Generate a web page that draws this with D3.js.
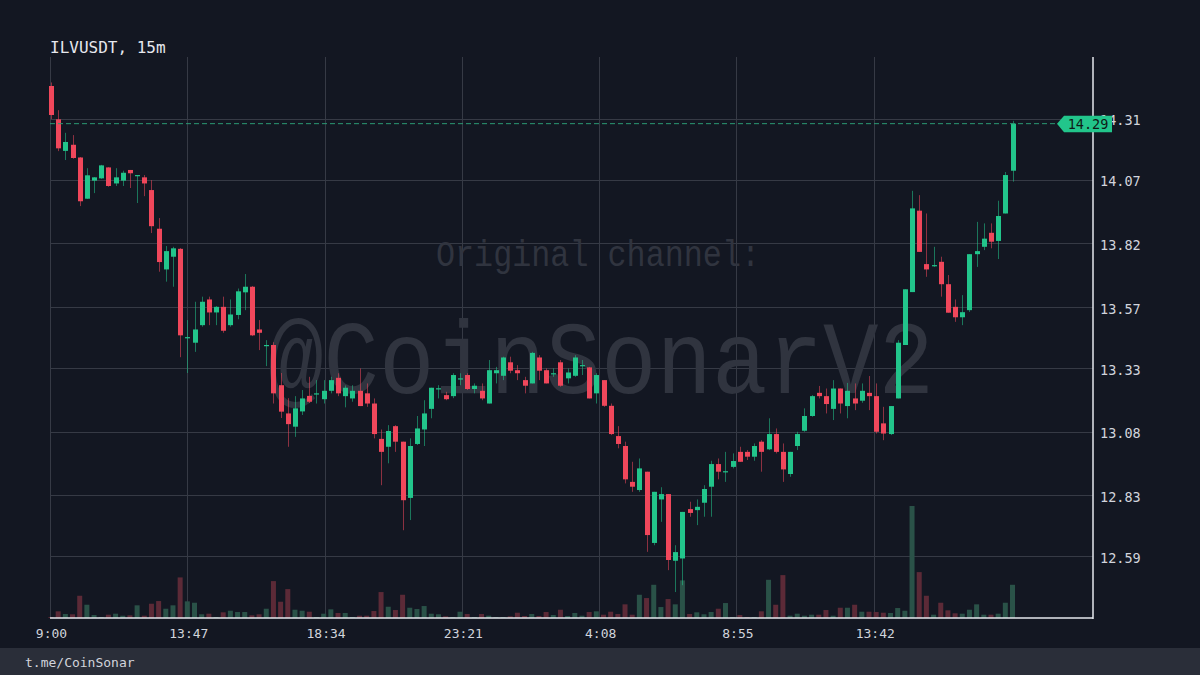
<!DOCTYPE html>
<html>
<head>
<meta charset="utf-8">
<script src="https://cdn.jsdelivr.net/npm/d3@7"></script>
<style>
html,body{margin:0;padding:0;background:#131722;}
svg{display:block;}
</style>
</head>
<body>
<svg id="chart" width="1200" height="675"></svg>
<script>
// ---------------- DATA ----------------
const symbolTitle = "ILVUSDT, 15m";
const footerText = "t.me/CoinSonar";
const watermarkLine1 = "Original channel:";
const watermarkLine2 = "@CoinSonarV2";
const startTime = "2021-10-01T09:00:00";
const intervalMinutes = 15;
const lastPrice = 14.29;

const opens = [14.438,14.307,14.183,14.207,14.157,13.995,14.066,14.075,14.118,14.055,
14.066,14.108,14.086,14.079,14.029,13.877,13.717,13.767,13.798,13.449,
13.429,13.498,13.599,13.548,13.570,13.498,13.538,13.627,13.649,13.481,
13.418,13.420,13.262,13.151,13.099,13.159,13.220,13.229,13.207,13.240,
13.291,13.219,13.210,13.240,13.230,13.190,13.051,13.020,13.101,13.040,
12.819,13.031,13.088,13.169,13.247,13.223,13.219,13.288,13.302,13.247,
13.240,13.190,13.309,13.299,13.352,13.321,13.282,13.269,13.371,13.321,
13.308,13.352,13.289,13.299,13.340,13.332,13.230,13.282,13.181,13.062,
13.023,12.882,12.850,12.922,12.642,12.813,12.834,12.572,12.581,12.775,
12.771,12.800,12.863,12.952,12.923,12.941,13.000,13.000,12.981,13.040,
13.010,13.070,13.000,12.913,13.023,13.083,13.141,13.232,13.219,13.169,
13.249,13.180,13.210,13.201,13.232,13.219,13.112,13.070,13.210,13.420,
13.628,13.948,13.738,13.733,13.747,13.659,13.570,13.529,13.557,13.777,
13.806,13.861,13.829,13.937,14.105];

const highs = [14.452,14.343,14.254,14.245,14.159,14.115,14.080,14.128,14.119,14.115,
14.105,14.108,14.088,14.088,14.068,13.919,13.809,13.806,13.801,13.518,
13.590,13.610,13.610,13.573,13.610,13.599,13.642,13.699,13.652,13.518,
13.439,13.431,13.310,13.211,13.219,13.243,13.295,13.282,13.282,13.295,
13.309,13.261,13.262,13.328,13.269,13.210,13.088,13.105,13.105,13.040,
13.053,13.141,13.203,13.252,13.262,13.236,13.309,13.309,13.309,13.269,
13.269,13.361,13.334,13.374,13.374,13.341,13.295,13.393,13.380,13.328,
13.328,13.361,13.328,13.380,13.361,13.334,13.309,13.282,13.190,13.101,
13.040,12.961,12.974,12.922,12.843,12.861,12.834,12.633,12.764,12.804,
12.813,12.869,12.965,12.974,13.000,12.994,13.020,13.007,13.033,13.046,
13.132,13.092,13.033,13.000,13.079,13.171,13.223,13.259,13.249,13.282,
13.249,13.271,13.269,13.269,13.298,13.269,13.177,13.180,13.439,13.639,
14.026,14.009,13.937,13.806,13.767,13.695,13.599,13.616,13.777,13.904,
13.898,13.898,13.987,14.100,14.301];

const lows = [14.308,14.182,14.147,14.152,13.966,13.994,14.017,14.073,14.042,14.045,
14.045,14.037,13.978,14.005,13.860,13.708,13.669,13.649,13.372,13.310,
13.393,13.492,13.498,13.498,13.468,13.492,13.521,13.557,13.455,13.400,
13.337,13.190,13.133,13.020,13.059,13.145,13.192,13.190,13.190,13.230,
13.219,13.175,13.197,13.180,13.177,13.053,12.869,12.955,13.000,12.692,
12.732,13.027,13.023,13.132,13.210,13.203,13.211,13.262,13.243,13.230,
13.203,13.190,13.269,13.282,13.309,13.282,13.230,13.269,13.282,13.269,
13.295,13.256,13.269,13.295,13.302,13.210,13.190,13.177,13.066,13.014,
12.876,12.843,12.843,12.607,12.633,12.725,12.535,12.449,12.476,12.745,
12.712,12.745,12.745,12.892,12.882,12.935,12.961,12.968,12.965,12.922,
13.007,12.994,12.882,12.902,13.007,13.079,13.138,13.210,13.151,13.125,
13.151,13.132,13.164,13.193,13.164,13.072,13.046,13.066,13.210,13.420,
13.628,13.786,13.688,13.727,13.610,13.547,13.511,13.498,13.550,13.727,
13.793,13.800,13.758,13.937,14.062];

const closes = [14.324,14.193,14.218,14.155,13.985,14.087,14.079,14.126,14.045,14.079,
14.097,14.095,14.088,14.055,13.887,13.746,13.789,13.800,13.458,13.451,
13.481,13.590,13.548,13.570,13.476,13.540,13.631,13.649,13.458,13.468,
13.420,13.230,13.158,13.109,13.171,13.210,13.197,13.230,13.240,13.282,
13.230,13.252,13.240,13.180,13.190,13.070,13.000,13.082,13.040,12.810,
13.023,13.092,13.151,13.252,13.250,13.207,13.302,13.289,13.247,13.260,
13.210,13.321,13.321,13.371,13.319,13.309,13.260,13.389,13.319,13.269,
13.309,13.260,13.312,13.371,13.341,13.210,13.302,13.181,13.070,13.031,
12.892,12.863,12.935,12.673,12.843,12.834,12.575,12.606,12.764,12.760,
12.784,12.854,12.952,12.922,12.924,12.964,12.961,12.981,13.023,13.000,
13.070,13.000,12.931,13.000,13.070,13.141,13.219,13.219,13.188,13.249,
13.190,13.240,13.190,13.240,13.219,13.079,13.072,13.180,13.429,13.639,
13.957,13.786,13.717,13.734,13.659,13.547,13.529,13.549,13.777,13.789,
13.838,13.826,13.927,14.088,14.290];

const volumes = [100,670,400,370,2230,1330,300,100,330,430,
230,270,1270,230,1430,1700,930,1270,4070,1670,
1530,370,430,100,570,730,600,600,270,370,
930,3700,1630,2900,830,730,630,100,430,870,
500,500,100,230,230,700,2600,1130,800,2330,
1030,900,1200,430,370,170,100,630,400,100,
400,230,100,100,170,530,200,400,200,600,
300,830,200,500,230,600,670,330,630,400,
1370,330,2330,2000,3330,1100,1900,1370,3770,400,
570,370,600,930,1500,100,300,100,100,670,
3830,1330,4300,230,430,230,330,330,800,230,
1030,1030,1330,630,630,600,530,500,1000,730,
11230,4600,2230,330,1530,770,470,430,830,1370,
330,330,430,1530,3330];

const priceTicks = [14.31, 14.07, 13.82, 13.57, 13.33, 13.08, 12.83, 12.59];
const timeTickDates = ["2021-10-01T09:00:00","2021-10-01T13:47:00","2021-10-01T18:34:00",
  "2021-10-01T23:21:00","2021-10-02T04:08:00","2021-10-02T08:55:00","2021-10-02T13:42:00"];
const timeTickLabels = ["9:00","13:47","18:34","23:21","4:08","8:55","13:42"];

// ---------------- LAYOUT / STYLE ----------------
const C = {
  bg:"#131722", grid:"#363a45", axis:"#e6e8ee", text:"#d1d4dc",
  up:"#22c58b", down:"#f0475b", upVol:"#2a5248", downVol:"#5c2a37",
  watermark:"#30343f", footer:"#2a2e39"
};
const P = {left:50, right:1093, top:57, bottom:618};
const mono = "'DejaVu Sans Mono', monospace";

const svg = d3.select("#chart");
svg.append("rect").attr("width",1200).attr("height",675).attr("fill",C.bg);

const t0 = new Date(startTime);
const times = opens.map((_, i) => new Date(t0.getTime() + i * intervalMinutes * 60000));
const candles = opens.map((o, i) => ({t: times[i], o, h: highs[i], l: lows[i], c: closes[i], v: volumes[i]}));

const x = d3.scaleTime().domain([times[0], times[times.length-1]]).range([51, 1012.5]);
const y = d3.scaleLinear().domain([12.347, 14.552]).range([P.bottom, P.top]);
const yv = d3.scaleLinear().domain([0, d3.max(volumes)]).range([P.bottom, 506]);
const tickDates = timeTickDates.map(s => new Date(s));

// grid
const grid = svg.append("g");
grid.selectAll("line.h").data(priceTicks).join("line")
  .attr("x1",P.left).attr("x2",P.right)
  .attr("y1",d=>Math.round(y(d))+0.5).attr("y2",d=>Math.round(y(d))+0.5)
  .attr("stroke",C.grid).attr("stroke-width",1);
grid.selectAll("line.v").data(tickDates).join("line")
  .attr("x1",d=>Math.round(x(d))-0.5).attr("x2",d=>Math.round(x(d))-0.5)
  .attr("y1",P.top).attr("y2",P.bottom)
  .attr("stroke",C.grid).attr("stroke-width",1);

// watermark
svg.append("text").text(watermarkLine1)
  .attr("x",436).attr("y",265.5)
  .attr("textLength",324).attr("lengthAdjust","spacingAndGlyphs")
  .attr("font-family","'Liberation Mono', monospace").attr("font-size",37)
  .attr("fill",C.watermark);
svg.append("text").text(watermarkLine2)
  .attr("x",268).attr("y",393)
  .attr("textLength",666).attr("lengthAdjust","spacingAndGlyphs")
  .attr("font-family","'Liberation Mono', monospace").attr("font-size",104)
  .attr("fill",C.watermark);

// volume
const bw = 5;
svg.append("g").selectAll("rect").data(candles).join("rect")
  .attr("x",d=>x(d.t)-bw/2).attr("width",bw)
  .attr("y",d=>yv(d.v)).attr("height",d=>P.bottom-yv(d.v))
  .attr("fill",d=>d.c>=d.o?C.upVol:C.downVol);

// candles
const cg = svg.append("g");
cg.selectAll("line").data(candles).join("line")
  .attr("x1",d=>Math.round(x(d.t))+0.5).attr("x2",d=>Math.round(x(d.t))+0.5)
  .attr("y1",d=>y(d.h)).attr("y2",d=>y(d.l))
  .attr("stroke",d=>d.c>=d.o?C.up:C.down).attr("stroke-opacity",0.55).attr("stroke-width",1);
cg.selectAll("rect").data(candles).join("rect")
  .attr("x",d=>Math.round(x(d.t))+0.5-bw/2).attr("width",bw)
  .attr("y",d=>y(Math.max(d.o,d.c)))
  .attr("height",d=>Math.max(1.2, Math.abs(y(d.o)-y(d.c))))
  .attr("fill",d=>d.c>=d.o?C.up:C.down);

// last price dashed line
const yl = y(lastPrice);
svg.append("line").attr("x1",P.left).attr("x2",1057)
  .attr("y1",yl).attr("y2",yl)
  .attr("stroke","#2a9a74").attr("stroke-width",1).attr("stroke-dasharray","5,3");

// axes
const yAxis = d3.axisRight(y).tickValues(priceTicks).tickFormat(d3.format(".2f")).tickSize(0).tickPadding(7);
const ga = svg.append("g").attr("transform",`translate(${P.right},2)`).call(yAxis);
ga.select(".domain").remove();
ga.selectAll("text").attr("fill",C.text).attr("font-family",mono).attr("font-size",13.5);

const xAxis = d3.axisBottom(x).tickValues(tickDates).tickFormat((d,i)=>timeTickLabels[i]).tickSize(0).tickPadding(11);
const gx = svg.append("g").attr("transform",`translate(0,${P.bottom})`).call(xAxis);
gx.select(".domain").remove();
gx.selectAll("text").attr("fill",C.text).attr("font-family",mono).attr("font-size",13);

svg.append("line").attr("x1",P.right).attr("x2",P.right).attr("y1",P.top).attr("y2",P.bottom+1)
  .attr("stroke",C.axis).attr("stroke-width",1.5);
svg.append("line").attr("x1",P.left).attr("x2",P.right).attr("y1",P.bottom).attr("y2",P.bottom)
  .attr("stroke",C.axis).attr("stroke-width",1.5);

// price tag (drawn over the top axis label, as in the original)
const tg = svg.append("g");
tg.append("path")
  .attr("d",`M1057,${yl} L1064,${yl-8} L1112,${yl-8} L1112,${yl+8.5} L1064,${yl+8.5} Z`)
  .attr("fill",C.up);
tg.append("text").text(d3.format(".2f")(lastPrice))
  .attr("x",1088).attr("y",yl).attr("dy","0.36em").attr("text-anchor","middle")
  .attr("fill","#0f1a17").attr("font-family",mono).attr("font-size",13.5);

// title
svg.append("text").text(symbolTitle).attr("x",50).attr("y",53)
  .attr("fill","#e6e8ee").attr("font-family",mono).attr("font-size",16);

// footer
svg.append("rect").attr("x",0).attr("y",648).attr("width",1200).attr("height",27).attr("fill",C.footer);
svg.append("text").text(footerText).attr("x",25).attr("y",666.5)
  .attr("fill",C.text).attr("font-family",mono).attr("font-size",13);
</script>
</body>
</html>
